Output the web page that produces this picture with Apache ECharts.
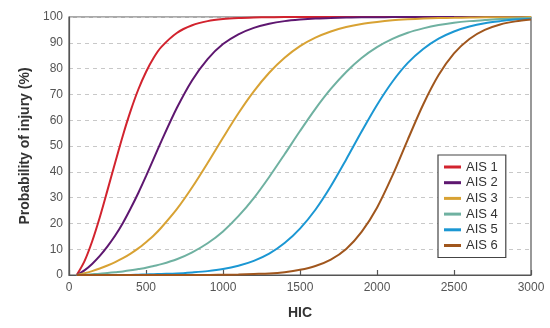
<!DOCTYPE html>
<html>
<head>
<meta charset="utf-8">
<script src="https://cdn.jsdelivr.net/npm/echarts@6/dist/echarts.min.js"></script>
<style>html,body{margin:0;padding:0;background:#fff;}#c{width:550px;height:328px;}</style>
</head>
<body>
<div id="c"></div>
<script>
var hic = [50,100,150,200,250,300,350,400,450,500,550,600,700,800,900,1000,1100,1200,1300,1400,1500,1600,1700,1800,1900,2000,2100,2200,2300,2400,2500,2600,2700,2800,2900,3000];
var ais1 = [0,5.3,13.0,22.4,32.9,43.6,54.1,63.6,71.9,78.7,84.2,88.4,93.8,96.8,98.4,99.2,99.6,99.8,99.9,100,100,100,100,100,100,100,100,100,100,100,100,100,100,100,100,100];
var ais2 = [0,1.8,4.3,7.4,11.1,15.3,20.2,25.8,31.8,38.3,45.1,51.9,64.7,75.5,83.7,89.5,93.3,95.8,97.4,98.4,99.0,99.4,99.6,99.8,99.9,99.9,100,100,100,100,100,100,100,100,100,100];
var ais3 = [0,0.7,1.5,2.5,3.7,5.0,6.5,8.3,10.3,12.7,15.3,18.4,25.5,34.0,43.4,53.2,62.7,71.2,78.4,84.2,88.7,92.0,94.4,96.1,97.3,98.1,98.7,99.1,99.4,99.6,99.7,99.8,99.9,99.9,99.9,100];
var ais4 = [0,0.1,0.3,0.5,0.8,1.1,1.4,1.8,2.3,2.8,3.5,4.2,6.1,8.8,12.3,16.9,22.8,29.8,38.0,46.8,55.8,64.4,72.1,78.7,84.1,88.3,91.5,93.9,95.6,96.9,97.8,98.4,98.8,99.2,99.4,99.6];
var ais5 = [0,0,0,0,0,0,0,0,0.1,0.2,0.3,0.4,0.6,1.0,1.5,2.3,3.6,5.5,8.3,12.4,18.0,25.3,34.4,44.8,55.6,65.9,74.9,82.2,87.6,91.6,94.4,96.3,97.6,98.4,99.0,99.3];
var ais6 = [0,0,0,0,0,0,0,0,0,0,0,0,0,0,0,0.1,0.2,0.4,0.6,1.1,2.0,3.5,6.0,10.1,16.7,26.1,38.5,52.5,66.1,77.5,85.9,91.5,95.0,97.1,98.3,99.0];
var names = ['AIS 1','AIS 2','AIS 3','AIS 4','AIS 5','AIS 6'];
var colors = ['#d2232e','#5e1770','#d8a233','#6fb1a1','#1b97d3','#a0561d'];
var xTicks = [0,500,1000,1500,2000,2500,3000];
var yTicks = [0,10,20,30,40,50,60,70,80,90,100];

var all = [ais1,ais2,ais3,ais4,ais5,ais6];
function pairs(v){ return hic.map(function(h,i){ return [h, v[i]]; }); }
var series = all.map(function(v,i){
  return {
    name: names[i], type: 'line', data: pairs(v), showSymbol: false, symbol: 'none',
    smooth: 0.3, lineStyle: {color: colors[i], width: 2}, itemStyle: {color: colors[i]}, z: 3 + i
  };
});

var chart = echarts.init(document.getElementById('c'), null, {renderer: 'canvas'});
chart.setOption({
  animation: false,
  backgroundColor: '#fff',
  grid: {left: 69, right: 19, top: 17, bottom: 53, show: true, borderColor: '#555', borderWidth: 1.2, backgroundColor: 'transparent'},
  legend: {
    orient: 'vertical', left: 438, top: 155, data: names,
    icon: 'rect', itemWidth: 17, itemHeight: 3, itemGap: 1.7,
    padding: [5, 8, 5, 6],
    backgroundColor: '#fff', borderColor: '#444', borderWidth: 1.2,
    textStyle: {fontFamily: 'Liberation Sans, Arial, sans-serif', fontSize: 13, color: '#333', lineHeight: 14}
  },
  xAxis: {
    type: 'value', min: 0, max: 3000, interval: 500,
    name: 'HIC', nameLocation: 'middle', nameGap: 31,
    nameTextStyle: {fontFamily: 'Liberation Sans, Arial, sans-serif', fontSize: 14, fontWeight: 'bold', color: '#333'},
    axisLine: {show: true, lineStyle: {color: '#555', width: 1.2}},
    axisTick: {show: true, inside: true, length: 5, lineStyle: {color: '#555', width: 1.2}},
    axisLabel: {margin: 7, fontFamily: 'Liberation Sans, Arial, sans-serif', fontSize: 12, color: '#555',
      formatter: function(v){ return xTicks.indexOf(v) >= 0 ? String(v) : ''; }},
    splitLine: {show: false}
  },
  yAxis: {
    type: 'value', min: 0, max: 100, interval: 10,
    name: 'Probability of injury (%)', nameLocation: 'middle', nameGap: 37,
    nameTextStyle: {fontFamily: 'Liberation Sans, Arial, sans-serif', fontSize: 14, fontWeight: 'bold', color: '#333'},
    axisLine: {show: true, lineStyle: {color: '#555', width: 1.2}},
    axisTick: {show: false},
    axisLabel: {margin: 6, fontFamily: 'Liberation Sans, Arial, sans-serif', fontSize: 12, color: '#555',
      formatter: function(v){ return yTicks.indexOf(v) >= 0 ? String(v) : ''; }},
    splitLine: {show: true, lineStyle: {color: '#c8c8c8', type: [4, 4], width: 1}}
  },
  series: series
});
</script>
</body>
</html>
